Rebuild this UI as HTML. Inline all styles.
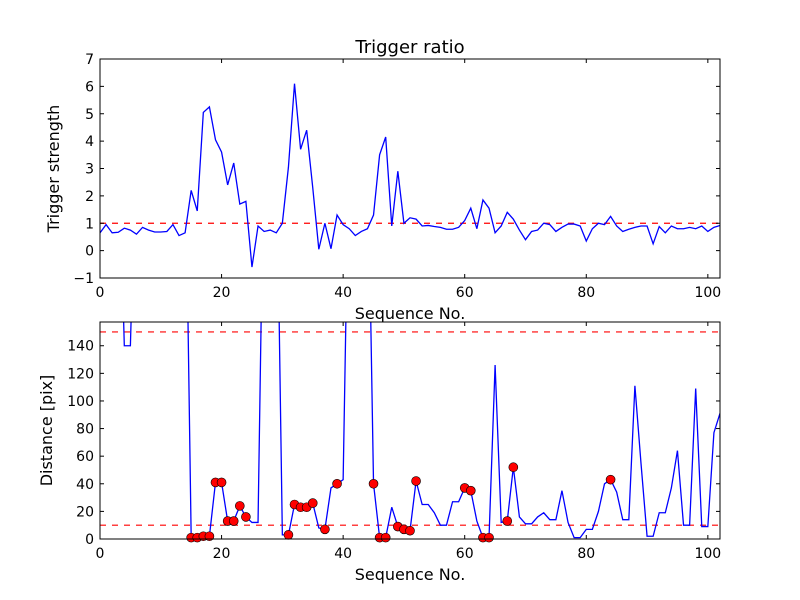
<!DOCTYPE html>
<html><head><meta charset="utf-8"><style>body{margin:0;background:#fff}svg{display:block;font-family:"DejaVu Sans","Liberation Sans",sans-serif}</style></head>
<body>
<svg id="c" width="800" height="600"></svg>
<script>
const topValues=[0.65,0.95,0.65,0.67,0.82,0.75,0.6,0.85,0.75,0.68,0.68,0.7,0.95,0.55,0.65,2.2,1.45,5.05,5.25,4.05,3.6,2.4,3.2,1.7,1.8,-0.6,0.9,0.7,0.75,0.65,1.0,3.05,6.1,3.7,4.4,2.3,0.05,1.0,0.07,1.3,0.95,0.8,0.55,0.7,0.8,1.3,3.5,4.15,0.9,2.9,1.0,1.2,1.15,0.9,0.92,0.88,0.85,0.78,0.78,0.85,1.1,1.55,0.8,1.85,1.55,0.65,0.9,1.4,1.15,0.75,0.4,0.7,0.75,1.0,0.95,0.7,0.85,0.97,0.97,0.9,0.35,0.8,1.0,0.95,1.25,0.9,0.7,0.78,0.85,0.9,0.9,0.25,0.88,0.65,0.9,0.8,0.8,0.85,0.8,0.9,0.7,0.85,0.92];
const botValues=[300,300,300,300,140,140,300,300,300,300,300,300,300,300,300,1,1,2,2,41,41,13,13,24,16,12,12,300,300,300,3,3,25,23,23,26,8,7,37,40,43,300,300,300,300,40,1,1,23,9,7,6,42,25,25,19,10,10,27,27,37,35,13,1,1,126,12,13,52,16,11,11,16,19,14,14,35,12,1,1,7,7,20,40,43,34,14,14,111,55,2,2,19,19,37,64,10,10,109,9,9,77,91];
const markerIdx=[15,16,17,18,19,20,21,22,23,24,31,32,33,34,35,37,39,45,46,47,49,50,51,52,60,61,63,64,67,68,84];
const xTicks=[0,20,40,60,80,100];
const topYTicks=[-1,0,1,2,3,4,5,6,7];
const botYTicks=[0,20,40,60,80,100,120,140];
const topThreshold=[1];
const botThresholds=[10,150];

const NS='http://www.w3.org/2000/svg';
const svg=document.getElementById('c');
function mk(t,a,p){const e=document.createElementNS(NS,t);for(const k in a)e.setAttribute(k,a[k]);(p||svg).appendChild(e);return e;}
const L=100,R=720,xMax=102;
const sx=v=>L+(v/xMax)*(R-L);
function axes(T,B,ymin,ymax,yticks,ythr,vals,name,ylabel,markers){
  const sy=v=>B-(v-ymin)/(ymax-ymin)*(B-T);
  const g=mk('g',{});
  
  
  const cid='clip-'+name;
  const cp=mk('clipPath',{id:cid},g);mk('rect',{x:L,y:T,width:R-L,height:B-T},cp);
  ythr.forEach(t=>{const l=mk('line',{x1:L,x2:R,y1:sy(t),y2:sy(t),stroke:'#f00','stroke-width':1.2,'stroke-dasharray':'6,6'},g);
    });
  const pts=vals.map((v,i)=>sx(i).toFixed(2)+','+sy(v).toFixed(2)).join(' ');
  const pl=mk('polyline',{points:pts,fill:'none',stroke:'#00f','stroke-width':1.3,'clip-path':'url(#'+cid+')'},g);
  
  if(markers){markers.forEach(i=>{const c=mk('circle',{cx:sx(i),cy:sy(vals[i]),r:4.5,fill:'#f00',stroke:'#000','stroke-width':0.6},g);
    });}
  mk('rect',{x:L,y:T,width:R-L,height:B-T,fill:'none',stroke:'#000','stroke-width':1},g);
  xTicks.forEach(t=>{const x=sx(t);mk('line',{x1:x,x2:x,y1:B,y2:B-4,stroke:'#000'},g);mk('line',{x1:x,x2:x,y1:T,y2:T+4,stroke:'#000'},g);
    const tx=mk('text',{x:x,y:B+19,'text-anchor':'middle','font-size':14},g);tx.textContent=t;
    });
  yticks.forEach(t=>{const y=sy(t);mk('line',{x1:L,x2:L+4,y1:y,y2:y,stroke:'#000'},g);mk('line',{x1:R,x2:R-4,y1:y,y2:y,stroke:'#000'},g);
    const tx=mk('text',{x:L-6,y:y+5,'text-anchor':'end','font-size':14},g);tx.textContent=t<0?'\u22121':t;
    });
  const xl=mk('text',{x:(L+R)/2,y:B+41,'text-anchor':'middle','font-size':16},g);xl.textContent='Sequence No.';
  
  const yl=mk('text',{x:0,y:0,'text-anchor':'middle','font-size':16,transform:'translate('+(name==='top-plot'?59:52)+','+((T+B)/2)+') rotate(-90)'},g);yl.textContent=ylabel;
  
}
axes(59,278,-1,7,topYTicks,topThreshold,topValues,'top-plot','Trigger strength',null);
axes(322,539,0,157.2,botYTicks,botThresholds,botValues,'bottom-plot','Distance [pix]',markerIdx);
const ti=mk('text',{x:410,y:53,'text-anchor':'middle','font-size':18});ti.textContent='Trigger ratio';


</script>
</body></html>
